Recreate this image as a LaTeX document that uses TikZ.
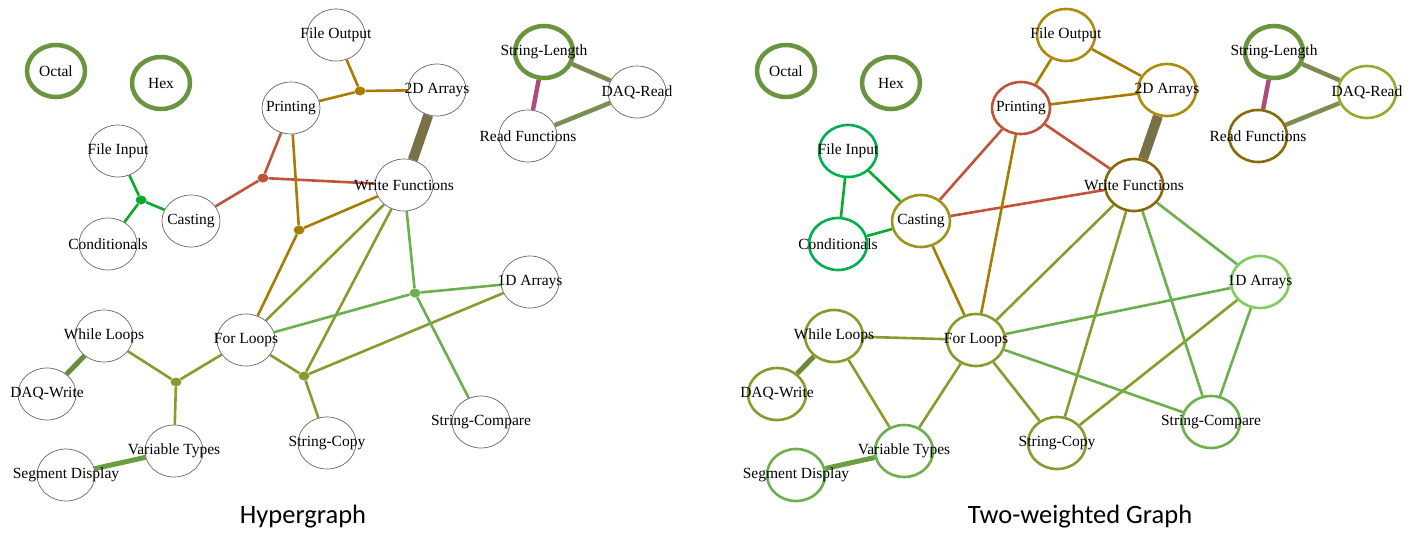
\documentclass[tikz,border=0pt]{standalone}
\usepackage{fontspec}
\setmainfont{Liberation Serif}
\newfontfamily\capfont{Carlito}
\usetikzlibrary{shapes.geometric}
\pgfdeclarelayer{background}
\pgfsetlayers{background,main}
\definecolor{cRing}{HTML}{6A943E}
\definecolor{cGreenH}{HTML}{0AAA2A}
\definecolor{cGreenN}{HTML}{00B050}
\definecolor{cRed}{HTML}{C0533A}
\definecolor{cGold}{HTML}{A87C00}
\definecolor{cGoldN}{HTML}{B08A10}
\definecolor{cBrown}{HTML}{7A7048}
\definecolor{cOlive}{HTML}{8A9A2E}
\definecolor{cLGreen}{HTML}{6AB04C}
\definecolor{cWD}{HTML}{6A8C3A}
\definecolor{cVS}{HTML}{6A9E40}
\definecolor{cMag}{HTML}{B04A78}
\definecolor{cSD}{HTML}{7A8A50}
\definecolor{cDR}{HTML}{7A9050}
\definecolor{cCast}{HTML}{A09420}
\definecolor{cWF}{HTML}{8A6A08}
\definecolor{cDAQR}{HTML}{9AA830}
\definecolor{cOneD}{HTML}{80CC60}
\tikzset{
  vnode/.style={ellipse, draw=black!60, line width=0.7pt, fill=white,
    minimum width=58pt, minimum height=52pt, inner sep=0pt},
  ring/.style={vnode, draw=cRing, line width=4.5pt},
  cnode/.style={vnode, draw=#1, line width=2.6pt},
  lbl/.style={font=\fontsize{15.5}{18}\selectfont, inner sep=0pt},
  hdot/.style={ellipse, fill=#1, minimum width=11pt, minimum height=9pt, inner sep=0pt},
  ed/.style={line width=2.6pt, draw=#1},
  captext/.style={font=\capfont\fontsize{26.5}{31}\selectfont, inner sep=0pt}
}
\begin{document}
\begin{tikzpicture}[x=1pt,y=-1pt]
\useasboundingbox (0,0) rectangle (1415,533);
% ---------------- Left: Hypergraph ----------------
\node[ring, label={[lbl]center:Octal}] (LOctal) at (56,71) {};
\node[ring, label={[lbl]center:Hex}] (LHex) at (161,83) {};
\node[vnode, label={[lbl]center:File Output}] (LFileOut) at (336,35) {};
\node[vnode, label={[lbl]center:2D Arrays}] (LTwoD) at (437,90) {};
\node[vnode, label={[lbl]center:Printing}] (LPrint) at (291,108) {};
\node[vnode, label={[lbl]center:File Input}] (LFileIn) at (118,151) {};
\node[vnode, label={[lbl]center:Casting}] (LCast) at (191,221) {};
\node[vnode, label={[lbl]center:Conditionals}] (LCond) at (108,244) {};
\node[vnode, label={[lbl]center:Write Functions}] (LWF) at (404,185) {};
\node[ring, label={[lbl]center:String-Length}] (LStrLen) at (544,52) {};
\node[vnode, label={[lbl]center:DAQ-Read}] (LDAQR) at (637,92) {};
\node[vnode, label={[lbl]center:Read Functions}] (LReadF) at (528,136) {};
\node[vnode, label={[lbl]center:1D Arrays}] (LOneD) at (530,282) {};
\node[vnode, label={[lbl]center:While Loops}] (LWhile) at (104,336) {};
\node[vnode, label={[lbl]center:DAQ-Write}] (LDAQW) at (47,394) {};
\node[vnode, label={[lbl]center:For Loops}] (LFor) at (246,340) {};
\node[vnode, label={[lbl]center:Variable Types}] (LVar) at (174,451) {};
\node[vnode, label={[lbl]center:Segment Display}] (LSeg) at (66,475) {};
\node[vnode, label={[lbl]center:String-Copy}] (LSCopy) at (327,443) {};
\node[vnode, label={[lbl]center:String-Compare}] (LSComp) at (481,422) {};
% hyperedge centres
\node[hdot=cGreenH] (LhG) at (141,200) {};
\node[hdot=cRed] (LhR) at (263,178) {};
\node[hdot=cGold] (LhY1) at (360,91) {};
\node[hdot=cGold] (LhY2) at (299,230) {};
\node[hdot=cOlive] (LhO1) at (304,376) {};
\node[hdot=cLGreen] (LhG2) at (415,293) {};
\node[hdot=cOlive] (LhO2) at (176,382) {};
\begin{pgfonlayer}{background}
\draw[ed=cGreenH] (LhG) -- (LFileIn) (LhG) -- (LCond) (LhG) -- (LCast);
\draw[ed=cRed] (LhR) -- (LPrint) (LhR) -- (LCast) (LhR) -- (LWF);
\draw[ed=cGold] (LhY1) -- (LFileOut) (LhY1) -- (LPrint) (LhY1) -- (LTwoD);
\draw[ed=cGold] (LhY2) -- (LPrint) (LhY2) -- (LWF) (LhY2) -- (LFor);
\draw[ed=cOlive] (LhO1) -- (LWF) (LhO1) -- (LFor) (LhO1) -- (LSCopy) (LhO1) -- (LOneD);
\draw[ed=cLGreen] (LhG2) -- (LWF) (LhG2) -- (LOneD) (LhG2) -- (LFor) (LhG2) -- (LSComp);
\draw[ed=cOlive] (LhO2) -- (LWhile) (LhO2) -- (LFor) (LhO2) -- (LVar);
\draw[ed=cOlive] (LWF) -- (LFor);
\draw[line width=10pt, draw=cBrown] (LTwoD) -- (LWF);
\draw[line width=5pt, draw=cWD] (LWhile) -- (LDAQW);
\draw[line width=5pt, draw=cVS] (LVar) -- (LSeg);
\draw[line width=4.5pt, draw=cMag] (LStrLen) -- (LReadF);
\draw[line width=4.5pt, draw=cSD] (LStrLen) -- (LDAQR);
\draw[line width=4.5pt, draw=cDR] (LDAQR) -- (LReadF);
\end{pgfonlayer}
% ---------------- Right: Two-weighted graph ----------------
\node[ring, label={[lbl]center:Octal}] (ROctal) at (786,71) {};
\node[ring, label={[lbl]center:Hex}] (RHex) at (891,83) {};
\node[cnode=cGoldN, label={[lbl]center:File Output}] (RFileOut) at (1066,35) {};
\node[cnode=cGoldN, label={[lbl]center:2D Arrays}] (RTwoD) at (1167,90) {};
\node[cnode=cRed, label={[lbl]center:Printing}] (RPrint) at (1021,108) {};
\node[cnode=cGreenN, label={[lbl]center:File Input}] (RFileIn) at (848,151) {};
\node[cnode=cCast, label={[lbl]center:Casting}] (RCast) at (921,221) {};
\node[cnode=cGreenN, label={[lbl]center:Conditionals}] (RCond) at (838,244) {};
\node[cnode=cWF, label={[lbl]center:Write Functions}] (RWF) at (1134,185) {};
\node[ring, label={[lbl]center:String-Length}] (RStrLen) at (1274,52) {};
\node[cnode=cDAQR, label={[lbl]center:DAQ-Read}] (RDAQR) at (1367,92) {};
\node[cnode=cWF, label={[lbl]center:Read Functions}] (RReadF) at (1258,136) {};
\node[cnode=cOneD, label={[lbl]center:1D Arrays}] (ROneD) at (1260,282) {};
\node[cnode=cOlive, label={[lbl]center:While Loops}] (RWhile) at (834,336) {};
\node[cnode=cOlive, label={[lbl]center:DAQ-Write}] (RDAQW) at (777,394) {};
\node[cnode=cOlive, label={[lbl]center:For Loops}] (RFor) at (976,340) {};
\node[cnode=cLGreen, label={[lbl]center:Variable Types}] (RVar) at (904,451) {};
\node[cnode=cLGreen, label={[lbl]center:Segment Display}] (RSeg) at (796,475) {};
\node[cnode=cOlive, label={[lbl]center:String-Copy}] (RSCopy) at (1057,443) {};
\node[cnode=cLGreen, label={[lbl]center:String-Compare}] (RSComp) at (1211,422) {};
\begin{pgfonlayer}{background}
\draw[ed=cGreenH] (RFileIn) -- (RCast) (RFileIn) -- (RCond) (RCond) -- (RCast);
\draw[ed=cRed] (RCast) -- (RPrint) (RCast) -- (RWF) (RPrint) -- (RWF);
\draw[ed=cGold] (RFileOut) -- (RPrint) (RFileOut) -- (RTwoD) (RPrint) -- (RTwoD);
\draw[ed=cGold] (RCast) -- (RFor) (RPrint) -- (RFor);
\draw[ed=cOlive] (RWF) -- (RFor) (RWF) -- (RSCopy) (RFor) -- (RSCopy) (RSCopy) -- (ROneD);
\draw[ed=cLGreen] (RWF) -- (RSComp) (RWF) -- (ROneD) (RFor) -- (ROneD) (RFor) -- (RSComp) (ROneD) -- (RSComp);
\draw[ed=cOlive] (RWhile) -- (RFor) (RWhile) -- (RVar) (RFor) -- (RVar);
\draw[line width=10pt, draw=cBrown] (RTwoD) -- (RWF);
\draw[line width=5pt, draw=cWD] (RWhile) -- (RDAQW);
\draw[line width=5pt, draw=cVS] (RVar) -- (RSeg);
\draw[line width=4.5pt, draw=cMag] (RStrLen) -- (RReadF);
\draw[line width=4.5pt, draw=cSD] (RStrLen) -- (RDAQR);
\draw[line width=4.5pt, draw=cDR] (RDAQR) -- (RReadF);
\end{pgfonlayer}
% captions
\node[captext] (capL) at (303,517) {Hypergraph};
\node[captext] (capR) at (1080,517) {Two-weighted Graph};
\end{tikzpicture}
\end{document}
